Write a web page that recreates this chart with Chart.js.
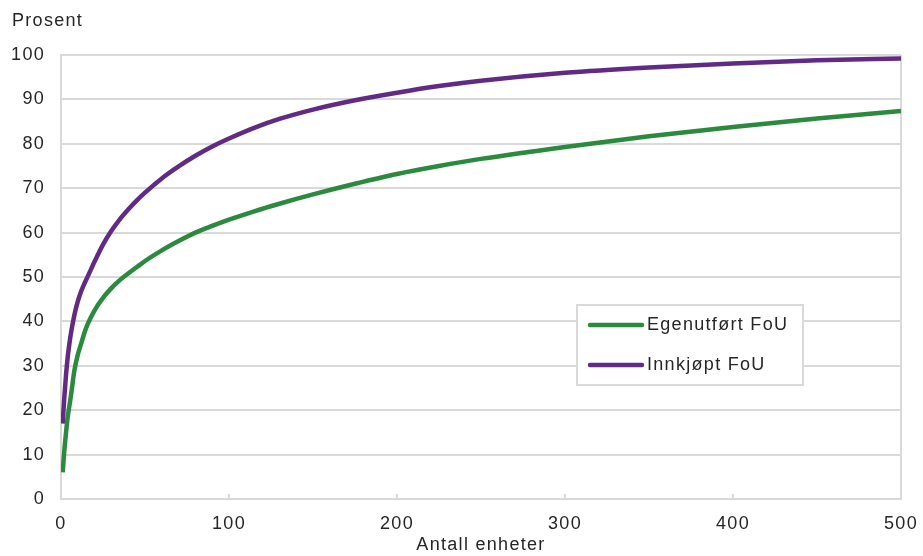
<!DOCTYPE html>
<html>
<head>
<meta charset="utf-8">
<script src="https://cdn.jsdelivr.net/npm/chart.js@4/dist/chart.umd.min.js"></script>
<style>
  html, body { margin: 0; padding: 0; background: #fff; }
  #wrap { width: 923px; height: 556px; position: relative; }
</style>
</head>
<body>
<div id="wrap"><canvas id="c" width="923" height="556"></canvas></div>
<script>
// units on the x axis
const units = [1, 2, 3, 4, 5, 6, 8, 10, 12, 14, 16, 20, 25, 30, 35, 40, 45, 50, 60, 70, 80, 90, 100, 115, 130, 150, 175, 200, 225, 250, 300, 350, 400, 450, 500];
// cumulative share, percent
const egenutfort = [6, 11, 15, 18.5, 21, 23.5, 29, 32.5, 35, 37.5, 39.5, 42.5, 45.3, 47.5, 49.3, 50.8, 52.2, 53.6, 56, 58.1, 60, 61.5, 62.9, 64.8, 66.5, 68.6, 71, 73.2, 75, 76.6, 79.3, 81.7, 83.8, 85.7, 87.4];
const innkjopt = [17, 23, 28, 32, 35, 37.5, 41.5, 44.5, 46.8, 48.6, 50.2, 53.5, 57.3, 60.4, 63, 65.2, 67.2, 69, 72.2, 74.9, 77.3, 79.4, 81.2, 83.6, 85.6, 87.7, 89.8, 91.5, 93, 94.2, 96, 97.2, 98.1, 98.8, 99.2];
const seriesNames = ["Egenutført FoU", "Innkjøpt FoU"];
const xTicks = [0, 100, 200, 300, 400, 500];

const GRID = "#d9d9d9";
const TEXT = "#262626";
const FONT = "'Liberation Sans', Arial, sans-serif";
const SPACING = "1.3px";

const toPoints = (vals) => units.map((u, i) => ({ x: u, y: vals[i] }));

// wider letter spacing, like the original
const spacing = {
  id: "spacing",
  beforeDraw(chart) { chart.ctx.letterSpacing = SPACING; },
};

// "Prosent" label, inner x ticks and the boxed legend
const extras = {
  id: "extras",
  afterDraw(chart) {
    const { ctx, chartArea, scales } = chart;
    ctx.save();
    ctx.letterSpacing = SPACING;
    ctx.fillStyle = TEXT;
    ctx.font = "18px " + FONT;
    ctx.textBaseline = "middle";
    ctx.textAlign = "left";
    ctx.fillText("Prosent", 12, 21);

    ctx.strokeStyle = GRID;
    ctx.lineWidth = 2;
    xTicks.slice(1, -1).forEach((v) => {
      const px = Math.round(scales.x.getPixelForValue(v));
      ctx.beginPath();
      ctx.moveTo(px, chartArea.bottom);
      ctx.lineTo(px, chartArea.bottom - 5);
      ctx.stroke();
    });

    // legend box
    const bx = 577, by = 305, bw = 226, bh = 80;
    ctx.fillStyle = "#fff";
    ctx.fillRect(bx, by, bw, bh);
    ctx.strokeRect(bx, by, bw, bh);
    chart.data.datasets.forEach((ds, i) => {
      const y = by + 20 + i * 40;
      ctx.strokeStyle = ds.borderColor;
      ctx.lineWidth = 4.5;
      ctx.lineCap = "round";
      ctx.beginPath();
      ctx.moveTo(590, y);
      ctx.lineTo(642, y);
      ctx.stroke();
      ctx.fillStyle = TEXT;
      ctx.font = "18px " + FONT;
      ctx.fillText(ds.label, 647, y);
    });
    ctx.restore();
  },
};

new Chart(document.getElementById("c"), {
  type: "line",
  data: {
    datasets: [
      {
        label: seriesNames[0],
        data: toPoints(egenutfort),
        borderColor: "#2b8a3e",
        borderWidth: 4.5,
        pointRadius: 0,
        cubicInterpolationMode: "monotone",
      },
      {
        label: seriesNames[1],
        data: toPoints(innkjopt),
        borderColor: "#612a84",
        borderWidth: 4.5,
        pointRadius: 0,
        cubicInterpolationMode: "monotone",
      },
    ],
  },
  options: {
    responsive: false,
    animation: false,
    layout: { padding: { top: 55, right: 22, left: 0, bottom: 0 } },
    plugins: {
      legend: { display: false },
      tooltip: { enabled: false },
    },
    scales: {
      x: {
        type: "linear",
        min: 0,
        max: 500,
        afterFit: (s) => {
          s.height = 57;
          s.paddingLeft = 0;
          s.paddingRight = 0;
        },
        afterBuildTicks: (s) => { s.ticks = xTicks.map((v) => ({ value: v })); },
        grid: {
          color: (c) => (c.tick && c.tick.value === 500 ? GRID : "transparent"),
          lineWidth: 2,
          drawTicks: false,
        },
        border: { display: true, color: GRID, width: 2 },
        ticks: {
          color: TEXT,
          font: { family: FONT, size: 18 },
          padding: 14,
          maxRotation: 0,
        },
        title: {
          display: true,
          text: "Antall enheter",
          color: TEXT,
          font: { family: FONT, size: 18 },
          padding: { top: 0, bottom: 0 },
        },
      },
      y: {
        min: 0,
        max: 100,
        afterFit: (s) => { s.width = 61; },
        ticks: {
          stepSize: 10,
          color: TEXT,
          font: { family: FONT, size: 18 },
          padding: 16,
        },
        grid: { color: GRID, lineWidth: 2, drawTicks: false },
        border: { display: true, color: GRID, width: 2 },
      },
    },
  },
  plugins: [spacing, extras],
});
</script>
</body>
</html>
